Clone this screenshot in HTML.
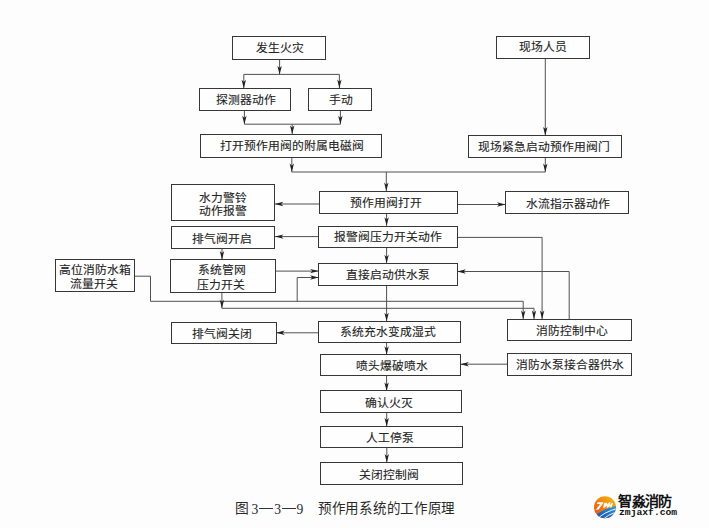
<!DOCTYPE html>
<html lang="zh-CN"><head><meta charset="utf-8"><style>
html,body{margin:0;padding:0;background:#fdfdfd;}
body{width:709px;height:528px;position:relative;overflow:hidden;font-family:"Liberation Serif",serif;color:#222;}
.b{position:absolute;box-sizing:border-box;border:1px solid #363636;display:flex;flex-direction:column;align-items:center;justify-content:center;font-size:11.8px;font-weight:400;-webkit-text-stroke:0.12px #333;line-height:1.1;white-space:nowrap;background:#fefefe;}
.b div{position:relative;}
svg{position:absolute;left:0;top:0;}
.cap{position:absolute;font-size:14px;white-space:nowrap;color:#2a2a2a;line-height:1;}
.dig{font-size:13.6px;}
.dash{position:absolute;height:1.2px;background:#333;}
</style></head><body>

<svg width="709" height="528" viewBox="0 0 709 528">
<polyline points="279.6,59.3 279.6,74.4" fill="none" stroke="#505050" stroke-width="1"/>
<polygon points="279.6,74.4 277.4,65.9 279.6,68.1 281.8,65.9" fill="#202020"/>
<polyline points="243.8,74.4 339.4,74.4" fill="none" stroke="#505050" stroke-width="1"/>
<polyline points="243.8,74.4 243.8,88.3" fill="none" stroke="#505050" stroke-width="1"/>
<polygon points="243.8,88.3 241.6,79.8 243.8,82.0 246.0,79.8" fill="#202020"/>
<polyline points="339.4,74.4 339.4,88.0" fill="none" stroke="#505050" stroke-width="1"/>
<polygon points="339.4,88.0 337.2,79.5 339.4,81.7 341.6,79.5" fill="#202020"/>
<polyline points="244.4,110.8 244.4,124.2" fill="none" stroke="#505050" stroke-width="1"/>
<polygon points="244.4,124.2 242.2,115.7 244.4,117.9 246.6,115.7" fill="#202020"/>
<polyline points="340.4,110.9 340.4,124.2" fill="none" stroke="#505050" stroke-width="1"/>
<polygon points="340.4,124.2 338.2,115.7 340.4,117.9 342.6,115.7" fill="#202020"/>
<polyline points="244.4,124.2 340.4,124.2" fill="none" stroke="#505050" stroke-width="1"/>
<polyline points="292.2,124.2 292.2,134.0" fill="none" stroke="#505050" stroke-width="1"/>
<polygon points="292.2,134.0 290.0,125.5 292.2,127.7 294.4,125.5" fill="#202020"/>
<polyline points="291.8,157.2 291.8,172.0" fill="none" stroke="#505050" stroke-width="1"/>
<polygon points="291.8,172.0 289.6,163.5 291.8,165.7 294.0,163.5" fill="#202020"/>
<polyline points="291.8,172.0 545.3,172.0" fill="none" stroke="#505050" stroke-width="1"/>
<polyline points="545.3,157.1 545.3,172.0" fill="none" stroke="#505050" stroke-width="1"/>
<polygon points="545.3,172.0 543.1,163.5 545.3,165.7 547.5,163.5" fill="#202020"/>
<polyline points="386.3,172.0 386.3,191.1" fill="none" stroke="#505050" stroke-width="1"/>
<polygon points="386.3,191.1 384.1,182.6 386.3,184.8 388.5,182.6" fill="#202020"/>
<polyline points="545.3,58.9 545.3,135.4" fill="none" stroke="#505050" stroke-width="1"/>
<polygon points="545.3,135.4 543.1,126.9 545.3,129.1 547.5,126.9" fill="#202020"/>
<polyline points="319.2,204.0 274.8,204.0" fill="none" stroke="#505050" stroke-width="1"/>
<polygon points="274.8,204.0 283.3,201.8 281.1,204.0 283.3,206.2" fill="#202020"/>
<polyline points="457.1,204.5 505.5,204.5" fill="none" stroke="#505050" stroke-width="1"/>
<polygon points="505.5,204.5 497.0,206.7 499.2,204.5 497.0,202.3" fill="#202020"/>
<polyline points="386.6,213.3 386.6,225.8" fill="none" stroke="#505050" stroke-width="1"/>
<polygon points="386.6,225.8 384.4,217.3 386.6,219.5 388.8,217.3" fill="#202020"/>
<polyline points="319.2,236.6 275.0,236.6" fill="none" stroke="#505050" stroke-width="1"/>
<polygon points="275.0,236.6 283.5,234.4 281.3,236.6 283.5,238.8" fill="#202020"/>
<polyline points="457.3,237.4 542.1,237.4 542.1,319.0" fill="none" stroke="#505050" stroke-width="1"/>
<polygon points="542.1,319.0 539.9,310.5 542.1,312.7 544.3,310.5" fill="#202020"/>
<polyline points="386.6,247.8 386.6,263.3" fill="none" stroke="#505050" stroke-width="1"/>
<polygon points="386.6,263.3 384.4,254.8 386.6,257.0 388.8,254.8" fill="#202020"/>
<polyline points="222.0,248.8 222.0,259.6" fill="none" stroke="#505050" stroke-width="1"/>
<polygon points="222.0,259.6 219.8,251.1 222.0,253.3 224.2,251.1" fill="#202020"/>
<polyline points="275.8,271.1 318.6,271.1" fill="none" stroke="#505050" stroke-width="1"/>
<polygon points="318.6,271.1 310.1,273.3 312.3,271.1 310.1,268.9" fill="#202020"/>
<polyline points="134.6,276.2 150.5,276.2 150.5,301.3 523.2,301.3 523.2,319.0" fill="none" stroke="#505050" stroke-width="1"/>
<polygon points="523.2,319.0 521.0,310.5 523.2,312.7 525.4,310.5" fill="#202020"/>
<polyline points="297.2,301.3 297.2,277.5 318.6,277.5" fill="none" stroke="#505050" stroke-width="1"/>
<polygon points="318.6,277.5 310.1,279.7 312.3,277.5 310.1,275.3" fill="#202020"/>
<polyline points="221.9,292.2 221.9,308.3" fill="none" stroke="#505050" stroke-width="1"/>
<polygon points="221.9,308.3 219.7,299.8 221.9,302.0 224.1,299.8" fill="#202020"/>
<polyline points="221.9,308.3 534.0,308.3 534.0,319.0" fill="none" stroke="#505050" stroke-width="1"/>
<polygon points="534.0,319.0 531.8,310.5 534.0,312.7 536.2,310.5" fill="#202020"/>
<polyline points="569.2,319.0 569.2,271.5 457.3,271.5" fill="none" stroke="#505050" stroke-width="1"/>
<polygon points="457.3,271.5 465.8,269.3 463.6,271.5 465.8,273.7" fill="#202020"/>
<polyline points="386.6,285.5 386.6,321.2" fill="none" stroke="#505050" stroke-width="1"/>
<polygon points="386.6,321.2 384.4,312.7 386.6,314.9 388.8,312.7" fill="#202020"/>
<polyline points="318.8,332.8 276.2,332.8" fill="none" stroke="#505050" stroke-width="1"/>
<polygon points="276.2,332.8 284.7,330.6 282.5,332.8 284.7,335.0" fill="#202020"/>
<polyline points="386.6,342.6 386.6,354.7" fill="none" stroke="#505050" stroke-width="1"/>
<polygon points="386.6,354.7 384.4,346.2 386.6,348.4 388.8,346.2" fill="#202020"/>
<polyline points="507.7,364.2 460.4,364.2" fill="none" stroke="#505050" stroke-width="1"/>
<polygon points="460.4,364.2 468.9,362.0 466.7,364.2 468.9,366.4" fill="#202020"/>
<polyline points="386.6,375.9 386.6,390.9" fill="none" stroke="#505050" stroke-width="1"/>
<polygon points="386.6,390.9 384.4,382.4 386.6,384.6 388.8,382.4" fill="#202020"/>
<polyline points="386.7,412.6 386.7,426.4" fill="none" stroke="#505050" stroke-width="1"/>
<polygon points="386.7,426.4 384.5,417.9 386.7,420.1 388.9,417.9" fill="#202020"/>
<polyline points="386.8,448.0 386.8,462.5" fill="none" stroke="#505050" stroke-width="1"/>
<polygon points="386.8,462.5 384.6,454.0 386.8,456.2 389.0,454.0" fill="#202020"/>
</svg>
<div class="b" style="left:232.1px;top:35.7px;width:93.7px;height:24.1px"><div style="left:1.2px;top:0.8px">发生火灾</div></div>
<div class="b" style="left:496.0px;top:36.4px;width:94.4px;height:23.0px"><div style="left:0.3px;top:-0.5px">现场人员</div></div>
<div class="b" style="left:199.0px;top:87.8px;width:92.0px;height:23.5px"><div style="left:1.3px;top:1.3px">探测器动作</div></div>
<div class="b" style="left:308.0px;top:87.5px;width:64.0px;height:23.9px"><div style="left:0.7px;top:0.7px">手动</div></div>
<div class="b" style="left:200.2px;top:133.5px;width:182.3px;height:24.2px"><div style="left:0.7px;top:1.3px">打开预作用阀的附属电磁阀</div></div>
<div class="b" style="left:468.4px;top:134.9px;width:153.3px;height:22.7px"><div style="left:-0.7px;top:0.8px">现场紧急启动预作用阀门</div></div>
<div class="b" style="left:170.8px;top:184.0px;width:104.5px;height:36.7px"><div style="left:-0.5px;top:2.5px">水力警铃</div><div style="left:-0.2px;top:2.7px">动作报警</div></div>
<div class="b" style="left:318.7px;top:190.6px;width:138.9px;height:23.2px"><div style="left:-1.8px;top:1.7px">预作用阀打开</div></div>
<div class="b" style="left:505.0px;top:191.1px;width:123.7px;height:22.9px"><div style="left:1.0px;top:1.5px">水流指示器动作</div></div>
<div class="b" style="left:170.8px;top:226.2px;width:104.7px;height:23.1px"><div style="left:-1.5px;top:1.8px">排气阀开启</div></div>
<div class="b" style="left:318.3px;top:225.6px;width:139.6px;height:22.9px"><div style="left:-0.0px;top:0.6px">报警阀压力开关动作</div></div>
<div class="b" style="left:54.5px;top:258.9px;width:80.6px;height:33.6px"><div style="left:-0.2px;top:1.3px">高位消防水箱</div><div style="left:-0.5px;top:2.7px">流量开关</div></div>
<div class="b" style="left:170.3px;top:259.1px;width:106.0px;height:33.6px"><div style="left:-1.5px;top:1.2px">系统管网</div><div style="left:-1.9px;top:2.9px">压力开关</div></div>
<div class="b" style="left:318.1px;top:262.8px;width:139.7px;height:23.2px"><div style="left:-0.3px;top:1.3px">直接启动供水泵</div></div>
<div class="b" style="left:171.0px;top:321.5px;width:105.7px;height:22.3px"><div style="left:-2.3px;top:1.5px">排气阀关闭</div></div>
<div class="b" style="left:318.3px;top:320.7px;width:142.4px;height:22.4px"><div style="left:-1.0px;top:0.6px">系统充水变成湿式</div></div>
<div class="b" style="left:507.2px;top:318.5px;width:124.6px;height:22.8px"><div style="left:2.3px;top:1.8px">消防控制中心</div></div>
<div class="b" style="left:319.8px;top:354.2px;width:141.1px;height:22.2px"><div style="left:2.1px;top:0.8px">喷头爆破喷水</div></div>
<div class="b" style="left:507.2px;top:353.0px;width:124.6px;height:22.7px"><div style="left:0.2px;top:0.8px">消防水泵接合器供水</div></div>
<div class="b" style="left:319.8px;top:390.4px;width:142.3px;height:22.7px"><div style="left:-2.2px;top:1.3px">确认火灭</div></div>
<div class="b" style="left:320.3px;top:425.9px;width:142.7px;height:22.6px"><div style="left:-2.0px;top:1.7px">人工停泵</div></div>
<div class="b" style="left:320.3px;top:462.0px;width:142.7px;height:22.5px"><div style="left:-2.6px;top:2.2px">关闭控制阀</div></div>

<div class="cap" id="c1" style="left:234.8px;top:502px;font-size:13.8px">图</div>
<div class="cap dig" id="c2" style="left:251.6px;top:503px">3</div>
<div class="dash" style="left:259px;top:508px;width:14px"></div>
<div class="cap dig" id="c3" style="left:274.2px;top:503px">3</div>
<div class="dash" style="left:281.5px;top:508px;width:14px"></div>
<div class="cap dig" id="c4" style="left:296.6px;top:503px">9</div>
<div class="cap" id="c5" style="left:318px;top:501.5px;font-size:13.5px;letter-spacing:0.72px">预作用系统的工作原理</div>


<svg style="left:590px;top:490px" width="36" height="34" viewBox="590 490 36 34">
<defs>
<linearGradient id="go" x1="0" y1="1" x2="1" y2="0"><stop offset="0" stop-color="#e5401c"/><stop offset="0.55" stop-color="#f08a10"/><stop offset="1" stop-color="#f7c000"/></linearGradient>
<linearGradient id="gb" x1="0" y1="1" x2="1" y2="0"><stop offset="0" stop-color="#1b3f9a"/><stop offset="1" stop-color="#2a9fe6"/></linearGradient>
<clipPath id="cc"><circle cx="605" cy="507.2" r="11"/></clipPath>
</defs>
<g clip-path="url(#cc)">
<rect x="594" y="496" width="22" height="23" fill="url(#go)"/>
<path d="M594,521 L594,516.8 Q603,508.5 617,505.8 L617,521 Z" fill="url(#gb)"/>
<path d="M596.8,519.2 Q605,511.6 617,508.6" stroke="#fff" stroke-width="0.9" fill="none"/>
<path d="M600.5,521 Q608.5,514.2 617,511.6" stroke="#fff" stroke-width="0.9" fill="none"/>
</g>
<path d="M597.5,502.2 L603.8,502.2 L598.6,509.6 L595.8,509.8 L600.2,503.9 L597,503.9 Z" fill="#fff"/>
<path d="M604.2,503 L607.2,502.4 L606.4,504.6 L609.4,502.2 L610.6,502.2 L609.6,505.6 L611.6,503 L613,503 L611.4,507.6 L609.8,507.6 L610.4,505.8 L607.8,507.8 L606.6,507.8 L607.4,505.4 L604.6,507.8 L603,507.8 Z" fill="#fff" opacity="0.95"/>
</svg>
<div class="logo1" style="position:absolute;left:618.3px;top:489.8px;font-size:14px;letter-spacing:-0.6px;font-weight:bold;color:#111;white-space:nowrap;font-family:'Liberation Sans',sans-serif">智淼消防</div>
<div class="logo2" style="position:absolute;left:619px;top:507px;font-size:9.7px;font-weight:bold;color:#111;white-space:nowrap;font-family:'Liberation Mono',monospace">zmjaxf.com</div>

</body></html>
